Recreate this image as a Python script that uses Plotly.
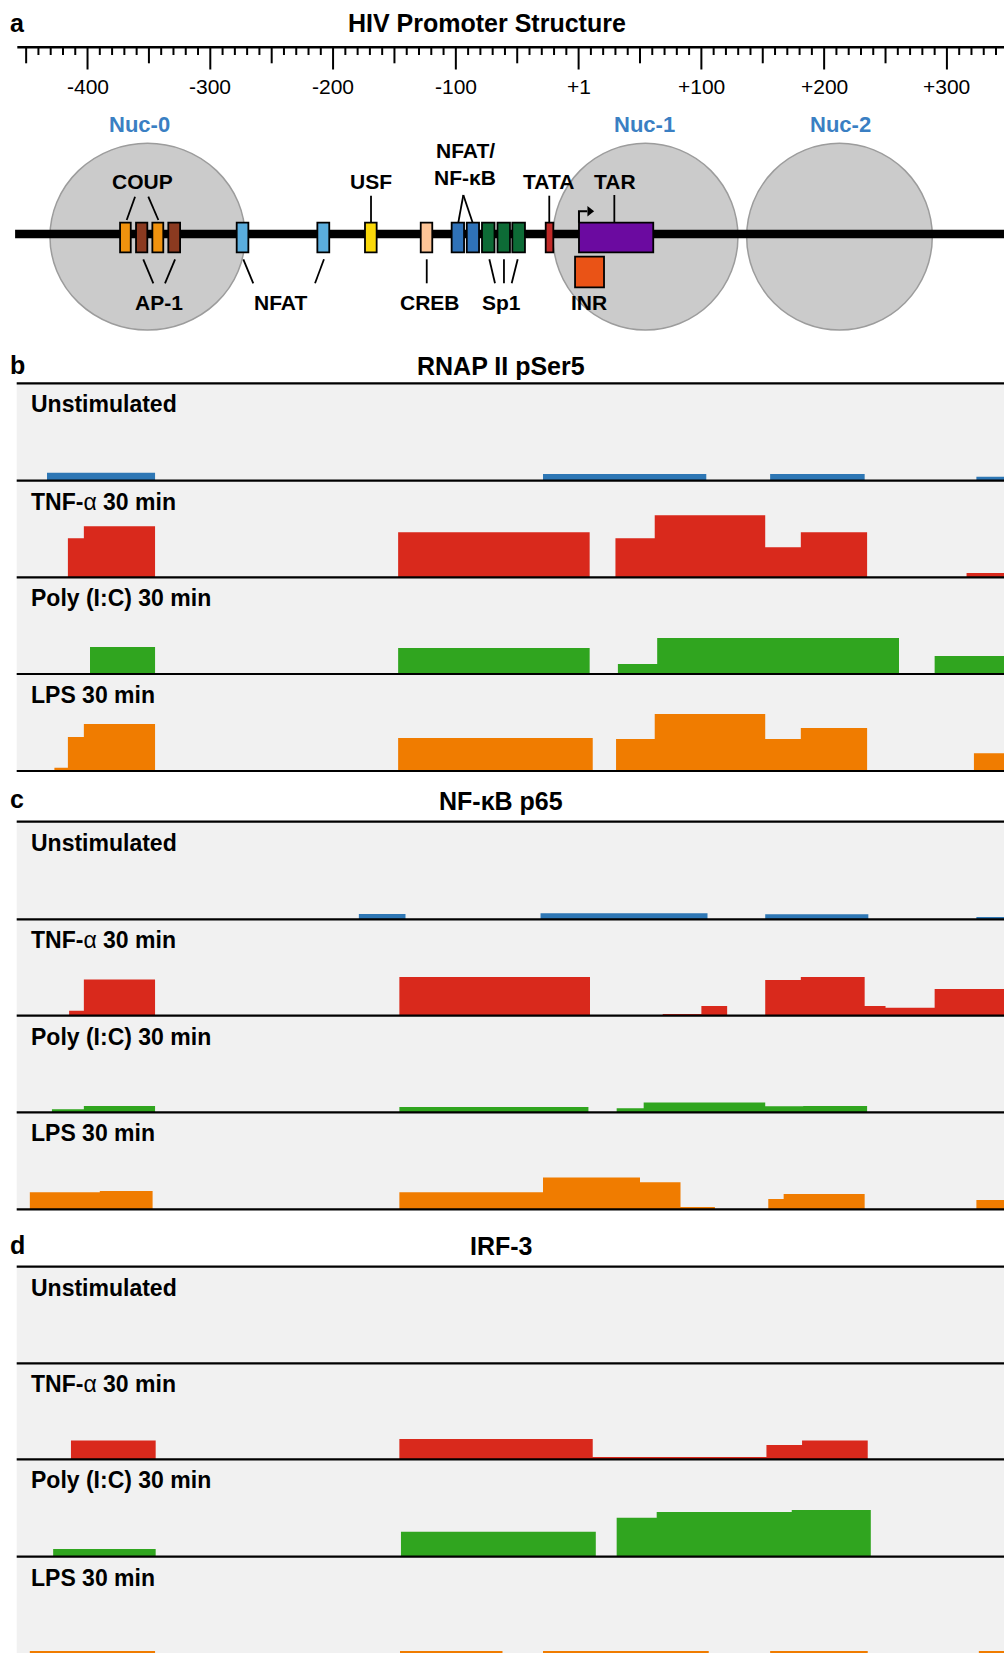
import plotly.graph_objects as go

W, H = 1004, 1653

# ------------------------------------------------------------------ data
RULER_VALUES = [-400, -300, -200, -100, 0, 100, 200, 300]
RULER_LABELS = ["-400", "-300", "-200", "-100", "+1", "+100", "+200", "+300"]

NUC_NAMES = ["Nuc-0", "Nuc-1", "Nuc-2"]
NUC_START = [-430.6, -20.9, 136.9]
NUC_END = [-271.7, 129.8, 288.1]
NUC_LABEL_X = [-358.0, 53.4, 213.6]

ELEM_NAMES = ["COUP", "AP-1", "COUP", "AP-1", "NFAT", "NFAT", "USF", "CREB",
              "NF-kB", "NF-kB", "Sp1", "Sp1", "Sp1", "TATA", "TAR"]
ELEM_START = [-373.5, -360.5, -347.2, -334.2, -278.5, -212.8, -174.0, -128.6,
              -103.4, -91.1, -78.7, -66.1, -54.0, -26.8, 0.3]
ELEM_END = [-364.8, -351.3, -338.3, -324.6, -269.0, -203.1, -164.5, -119.2,
            -93.3, -81.1, -68.5, -55.9, -43.7, -20.6, 60.8]
ELEM_COLORS = ["#f0920e", "#8b3a20", "#f0920e", "#8b3a20", "#5aaddd", "#5aaddd",
               "#fad80a", "#fdc496", "#2f72b8", "#2f72b8", "#0d6b36", "#0d6b36",
               "#0d6b36", "#c12a28", "#6b0aa0"]
INR_START, INR_END = -2.9, 20.7

CONDITIONS = ["Unstimulated", "TNF-<span style='font-weight:normal'>α</span> 30 min",
              "Poly (I:C) 30 min", "LPS 30 min"]
PANEL_TITLES = ["RNAP II pSer5", "NF-κB p65", "IRF-3"]
PANEL_LETTERS = ["b", "c", "d"]

# RNAP II pSer5 (step breakpoints in bp, signal heights)
rnap_unstim_x = [-433, -345, -29, 104, 156, 233, 324, 350]
rnap_unstim_y = [8, 0, 6.7, 0, 6.7, 0, 4, 4]
rnap_tnf_x = [-416, -403, -345, -147, 9, 30, 62, 152, 181, 235, 316, 350]
rnap_tnf_y = [39, 51, 0, 45, 0, 39, 62, 30, 45, 0, 4.3, 4.3]
rnap_poly_x = [-398, -345, -147, 9, 32, 64, 261, 290, 350]
rnap_poly_y = [27, 0, 26, 0, 10, 36, 0, 18, 18]
rnap_lps_x = [-427, -416, -403, -345, -147, 11.5, 30.5, 62, 152, 181, 235, 322, 350]
rnap_lps_y = [3.3, 34, 47, 0, 33, 0, 32, 57, 32, 43, 0, 17.7, 17.7]

# NF-kB p65
nfkb_unstim_x = [-179, -141, -31, 105, 152, 236, 324, 350]
nfkb_unstim_y = [5.3, 0, 6, 0, 5, 0, 2.3, 2.3]
nfkb_tnf_x = [-415, -403, -345, -146, 9.3, 68.5, 100, 121, 152, 181, 233, 250, 290, 350]
nfkb_tnf_y = [5, 36.3, 0, 38.7, 0, 1.7, 9.7, 0, 35.7, 38.7, 9.7, 8, 26.7, 26.7]
nfkb_poly_x = [-429, -403, -345, -146, 8, 31, 53, 152, 183, 235, 350]
nfkb_poly_y = [3, 6.3, 0, 5.3, 0, 4, 9.7, 6, 6.3, 0, 0]
nfkb_lps_x = [-447, -390, -347, -146, -29, 50, 83, 111, 154.5, 167, 233, 324, 350]
nfkb_lps_y = [17, 18.3, 0, 17, 31.7, 27, 2.3, 0, 10.3, 15.3, 0, 9.3, 9.3]

# IRF-3
irf_unstim_x = [-457, 350]
irf_unstim_y = [0, 0]
irf_tnf_x = [-413.5, -344.5, -146, 11.5, 153, 182, 235.5, 350]
irf_tnf_y = [18.7, 0, 20.3, 2.3, 14.3, 18.7, 0, 0]
irf_poly_x = [-428, -344.5, -144.7, 14, 31, 63.6, 173.6, 238, 350]
irf_poly_y = [7.7, 0, 25, 0, 39, 44.7, 46.7, 0, 0]
irf_lps_x = [-447, -345, -145.5, -62, -29, 106, 156, 235.5, 326, 350]
irf_lps_y = [3.5, 0, 3.5, 0, 3.5, 0, 3.5, 0, 3.5, 3.5]

TRACKS = [
    [(rnap_unstim_x, rnap_unstim_y), (rnap_tnf_x, rnap_tnf_y),
     (rnap_poly_x, rnap_poly_y), (rnap_lps_x, rnap_lps_y)],
    [(nfkb_unstim_x, nfkb_unstim_y), (nfkb_tnf_x, nfkb_tnf_y),
     (nfkb_poly_x, nfkb_poly_y), (nfkb_lps_x, nfkb_lps_y)],
    [(irf_unstim_x, irf_unstim_y), (irf_tnf_x, irf_tnf_y),
     (irf_poly_x, irf_poly_y), (irf_lps_x, irf_lps_y)],
]
TRACK_COLORS = ["#2e77b5", "#d9291c", "#30a51f", "#f07c00"]

# ------------------------------------------------------------------ layout geometry (pixels)
X_MIN, X_MAX = -471.3, 346.5
BG_X0 = -457.7
DIAG_H = 340
PANEL_TOPS = [383.3, 821.7, 1266.7]
PANEL_BASELINES = [[480.7, 577.3, 674.0, 771.0],
                   [919.3, 1015.7, 1112.3, 1209.3],
                   [1363.3, 1459.3, 1556.7, 1654.5]]
PANEL_TITLE_Y = [365.5, 801, 1246]
PANEL_LETTER_Y = [365, 799, 1245]

FONT = "Liberation Sans, Arial, Helvetica, sans-serif"
HTOT = 1656  # figure extends slightly below the window


def py(px):
    return 1 - px / HTOT


fig = go.Figure()
shapes = []
annotations = []
layout = dict(width=W, height=HTOT, margin=dict(l=0, r=0, t=0, b=0, pad=0),
              paper_bgcolor="white", plot_bgcolor="rgba(0,0,0,0)",
              showlegend=False, font=dict(family=FONT, color="black"))
layout["xaxis"] = dict(domain=[0, 1], range=[X_MIN, X_MAX], visible=False,
                       anchor="y", fixedrange=True)
layout["yaxis"] = dict(domain=[py(DIAG_H), 1], range=[DIAG_H, 0], visible=False,
                       anchor="x", fixedrange=True)

# ---------------- panel a : ruler
RULER_Y = 47.3
shapes.append(dict(type="line", xref="x", yref="y", x0=-457.2, x1=X_MAX + 5,
                   y0=RULER_Y, y1=RULER_Y, line=dict(color="black", width=2.5),
                   layer="above"))
tx, ty = [], []
for v in range(-450, 350, 10):
    if v % 100 == 0:
        y1 = 69.5
    elif v % 50 == 0:
        y1 = 63.3
    else:
        y1 = 55.0
    tx += [v, v, None]
    ty += [RULER_Y, y1, None]
fig.add_trace(go.Scatter(x=tx, y=ty, mode="lines", line=dict(color="black", width=2),
                         xaxis="x", yaxis="y", hoverinfo="skip"))
for v, lab in zip(RULER_VALUES, RULER_LABELS):
    annotations.append(dict(x=v, y=86.5, xref="x", yref="y", text=lab, showarrow=False,
                            xanchor="center", yanchor="middle",
                            font=dict(size=21, family=FONT, color="black")))

# ---------------- panel a : nucleosomes, DNA, elements
for s, e in zip(NUC_START, NUC_END):
    shapes.append(dict(type="circle", xref="x", yref="y", x0=s, x1=e, y0=143.3, y1=330,
                       fillcolor="#cbcbcb", line=dict(color="#9c9c9c", width=1.5),
                       layer="below"))
shapes.append(dict(type="rect", xref="x", yref="y", x0=-459, x1=X_MAX + 5, y0=229.8, y1=238.2,
                   fillcolor="black", line=dict(width=0), layer="below"))
for s, e, c in zip(ELEM_START, ELEM_END, ELEM_COLORS):
    shapes.append(dict(type="rect", xref="x", yref="y", x0=s, x1=e, y0=222.7, y1=252.3,
                       fillcolor=c, line=dict(color="black", width=1.8), layer="below"))
shapes.append(dict(type="rect", xref="x", yref="y", x0=INR_START, x1=INR_END,
                   y0=256.7, y1=287.3, fillcolor="#ea5316",
                   line=dict(color="black", width=1.8), layer="below"))

# connector lines
conn = [
    ((-361.3, 196.7), (-368.1, 220)), ((-350.5, 196.7), (-342.3, 220)),
    ((-354.6, 259.3), (-346.4, 283.3)), ((-328.7, 259.3), (-336.9, 283.3)),
    ((-273.1, 259.3), (-265.0, 283.3)), ((-207.4, 259.3), (-214.7, 283.3)),
    ((-169.1, 195.7), (-169.1, 222.7)),
    ((-123.7, 259.3), (-123.7, 283.3)),
    ((-93.9, 195.0), (-98.0, 222.7)), ((-93.9, 195.0), (-86.3, 222.7)),
    ((-72.7, 259.3), (-68.1, 283.3)), ((-60.8, 259.3), (-60.8, 283.3)),
    ((-49.6, 259.3), (-54.5, 283.3)),
    ((-23.9, 195.7), (-23.9, 222.7)),
    ((29.1, 195.0), (29.1, 222.7)),
]
cx, cy = [], []
for (a, b) in conn:
    cx += [a[0], b[0], None]
    cy += [a[1], b[1], None]
fig.add_trace(go.Scatter(x=cx, y=cy, mode="lines", line=dict(color="black", width=1.8),
                         xaxis="x", yaxis="y", hoverinfo="skip"))
# transcription start arrow
fig.add_trace(go.Scatter(x=[0.3, 0.3, 7.0], y=[222.7, 211.3, 211.3], mode="lines",
                         line=dict(color="black", width=2), xaxis="x", yaxis="y",
                         hoverinfo="skip"))
fig.add_trace(go.Scatter(x=[9.0], y=[211.3], mode="markers",
                         marker=dict(symbol="triangle-right", size=9, color="black"),
                         xaxis="x", yaxis="y", hoverinfo="skip"))

# labels
def lab(x, y, text, size=21, color="black"):
    annotations.append(dict(x=x, y=y, xref="x", yref="y", text="<b>%s</b>" % text,
                            showarrow=False, xanchor="center", yanchor="middle",
                            font=dict(size=size, family=FONT, color=color)))

for name, x in zip(NUC_NAMES, NUC_LABEL_X):
    lab(x, 124.2, name, size=22, color="#3a7fc3")
lab(-355.5, 181.2, "COUP")
lab(-341.5, 302.8, "AP-1")
lab(-242.6, 302.8, "NFAT")
lab(-168.9, 181.2, "USF")
lab(-121.0, 302.8, "CREB")
lab(-92.5, 150.8, "NFAT/")
lab(-92.5, 177.5, "NF-κB")
lab(-62.6, 302.8, "Sp1")
lab(-24.9, 181.2, "TATA")
lab(29.4, 181.2, "TAR")
lab(8.2, 302.8, "INR")

annotations.append(dict(x=8 / W, y=py(23), xref="paper", yref="paper", text="<b>a</b>",
                        showarrow=False, xanchor="left", yanchor="middle",
                        font=dict(size=25, family=FONT)))
annotations.append(dict(x=486.7 / W, y=py(23), xref="paper", yref="paper",
                        text="<b>HIV Promoter Structure</b>", showarrow=False,
                        xanchor="center", yanchor="middle", font=dict(size=25, family=FONT)))

# ---------------- panels b, c, d : signal tracks
for p in range(3):
    annotations.append(dict(x=8 / W, y=py(PANEL_LETTER_Y[p]), xref="paper", yref="paper",
                            text="<b>%s</b>" % PANEL_LETTERS[p], showarrow=False,
                            xanchor="left", yanchor="middle", font=dict(size=25, family=FONT)))
    annotations.append(dict(x=501 / W, y=py(PANEL_TITLE_Y[p]), xref="paper", yref="paper",
                            text="<b>%s</b>" % PANEL_TITLES[p], showarrow=False,
                            xanchor="center", yanchor="middle", font=dict(size=25, family=FONT)))
    for i in range(4):
        n = 2 + 4 * p + i
        top = PANEL_TOPS[p] if i == 0 else PANEL_BASELINES[p][i - 1]
        bot = PANEL_BASELINES[p][i]
        layout["yaxis%d" % n] = dict(domain=[py(bot), py(top)], range=[0, bot - top],
                                     visible=False, anchor="x", fixedrange=True)
        shapes.append(dict(type="rect", xref="x", yref="y%d domain" % n, x0=BG_X0,
                           x1=X_MAX + 5, y0=0, y1=1, fillcolor="#f1f1f1",
                           line=dict(width=0), layer="below"))
        shapes.append(dict(type="line", xref="x", yref="y%d domain" % n, x0=BG_X0,
                           x1=X_MAX + 5, y0=0, y1=0, line=dict(color="black", width=2.2),
                           layer="above"))
        if i == 0:
            shapes.append(dict(type="line", xref="x", yref="y%d domain" % n, x0=BG_X0,
                               x1=X_MAX + 5, y0=1, y1=1,
                               line=dict(color="black", width=2.2), layer="above"))
        xs, ys = TRACKS[p][i]
        c = TRACK_COLORS[i]
        fig.add_trace(go.Scatter(x=xs, y=ys, mode="lines",
                                 line=dict(width=0, shape="hv", color=c),
                                 fill="tozeroy", fillcolor=c, xaxis="x", yaxis="y%d" % n,
                                 hoverinfo="skip"))
        annotations.append(dict(x=29.3 / W, y=py(top + 21), xref="paper", yref="paper",
                                text="<b>%s</b>" % CONDITIONS[i], showarrow=False,
                                xanchor="left", yanchor="middle",
                                font=dict(size=23, family=FONT)))

layout["shapes"] = shapes
layout["annotations"] = annotations
fig.update_layout(**layout)
fig.write_html("out.html", config={"displayModeBar": False},
               post_script="document.body.style.margin='0';"
                           "document.body.style.overflow='hidden';")
